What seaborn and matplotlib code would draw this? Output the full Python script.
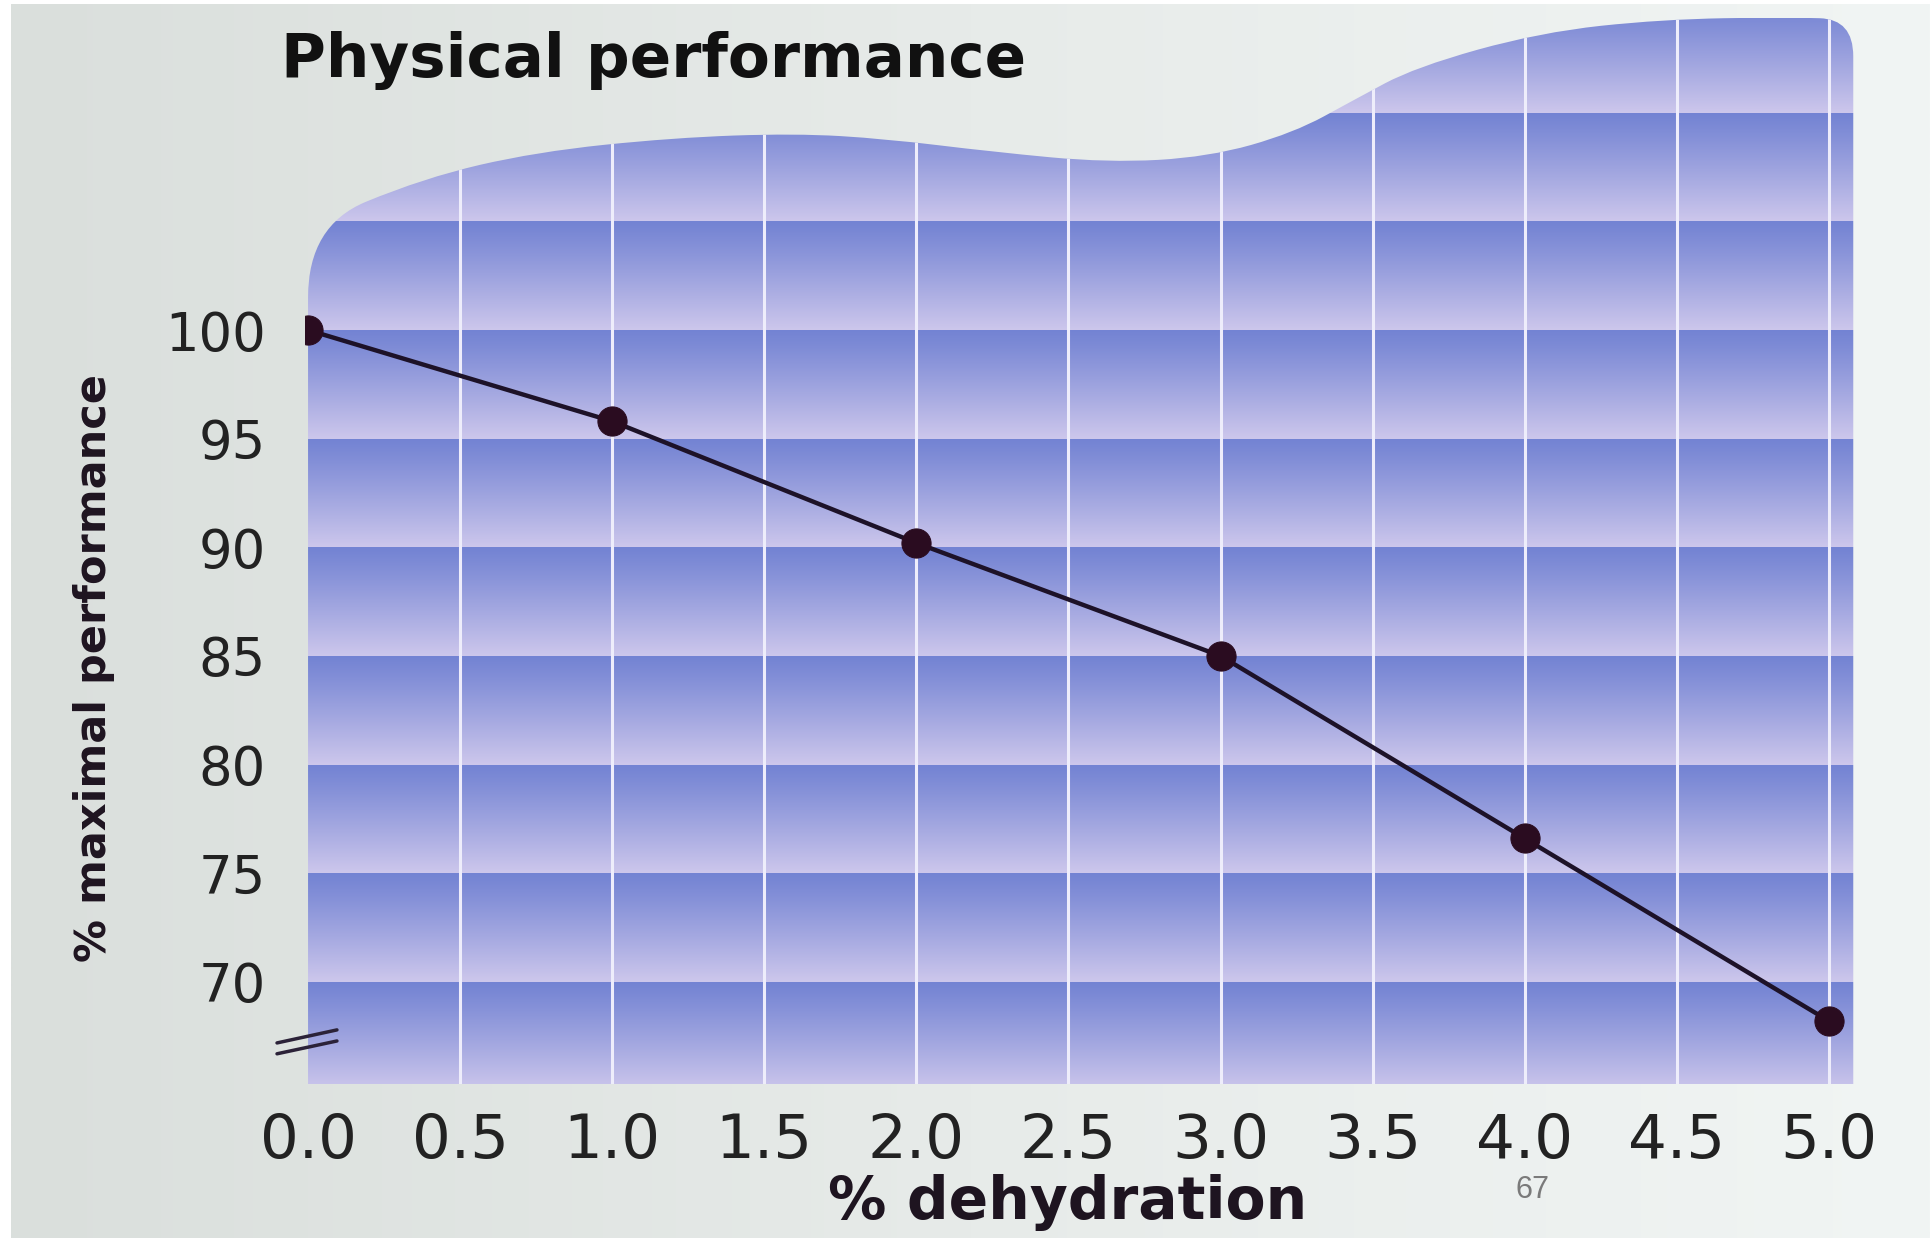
import numpy as np
import pandas as pd
import matplotlib
matplotlib.use("Agg")
import matplotlib.pyplot as plt
from matplotlib.path import Path
from matplotlib.patches import PathPatch
from matplotlib.colors import to_rgb
import seaborn as sns

# ---- data ----
dehydration = [0.0, 1.0, 2.0, 3.0, 4.0, 5.0]
performance = [100.0, 95.8, 90.2, 85.0, 76.6, 68.2]
x_ticks = [0.0, 0.5, 1.0, 1.5, 2.0, 2.5, 3.0, 3.5, 4.0, 4.5, 5.0]
x_tick_labels = ["0.0", "0.5", "1.0", "1.5", "2.0", "2.5", "3.0", "3.5", "4.0", "4.5", "5.0"]
y_ticks = [70, 75, 80, 85, 90, 95, 100]
y_tick_labels = ["70", "75", "80", "85", "90", "95", "100"]
title = "Physical performance"
x_label = "% dehydration"
y_label = "% maximal performance"
page_number = "67"

# decorative outline of the shaded panel (top edge control points)
top_x = [0.0, 0.0, 0.38, 0.75, 1.2, 1.6, 1.9, 2.25, 2.63, 2.96, 3.24, 3.44, 3.64, 4.05, 4.45, 4.86, 5.08, 5.08]
top_y = [101.5, 104.8, 107.0, 108.2, 108.85, 109.05, 108.8, 108.2, 107.7, 107.96, 109.07, 110.6, 112.1, 113.7, 114.3, 114.4, 114.3, 112.6]

df = pd.DataFrame({"dehydration": dehydration, "performance": performance})

sns.set_style("white")
plt.rcParams["font.family"] = ["DejaVu Sans"]

W, H = 1931, 1242
fig = plt.figure(figsize=(W / 100, H / 100), dpi=100)
fig.patch.set_facecolor("white")

# background (photo paper tone)
bg = fig.add_axes([11 / W, 4 / H, 1 - 11 / W, 1 - 8 / H])
bg.set_axis_off()
c_left = np.array(to_rgb("#dadfdc"))
c_mid = np.array(to_rgb("#e7ebe9"))
c_right = np.array(to_rgb("#f1f5f4"))
t = np.linspace(0, 1, 400)[None, :, None]
grad = np.where(t < 0.5, c_left + (c_mid - c_left) * (t / 0.5), c_mid + (c_right - c_mid) * ((t - 0.5) / 0.5))
grad = np.repeat(grad, 2, axis=0)
bg.imshow(grad, aspect="auto", extent=[0, 1, 0, 1], interpolation="bilinear")
bg.set_xlim(0, 1)
bg.set_ylim(0, 1)

# main axes
left_px, right_px, bottom_px, top_px = 305, 1856, 1084, 18
ax = fig.add_axes([left_px / W, 1 - bottom_px / H, (right_px - left_px) / W, (bottom_px - top_px) / H])
ax.patch.set_alpha(0)
xlim = (-0.01, 5.089)
ylim = (65.30, 114.36)
ax.set_xlim(*xlim)
ax.set_ylim(*ylim)

# shaded panel shape (smooth top edge via quadratic Bezier through midpoints)
x_right = 5.08
pts = list(zip(top_x, top_y))
verts = [(0.0, ylim[0]), pts[0]]
codes = [Path.MOVETO, Path.LINETO]
for i in range(1, len(pts) - 2):
    p = pts[i]
    q = pts[i + 1]
    mid = ((p[0] + q[0]) / 2, (p[1] + q[1]) / 2)
    verts += [p, mid]
    codes += [Path.CURVE3, Path.CURVE3]
verts += [pts[-2], pts[-1]]
codes += [Path.CURVE3, Path.CURVE3]
verts += [(x_right, ylim[0]), (0.0, ylim[0])]
codes += [Path.LINETO, Path.CLOSEPOLY]
shape = PathPatch(Path(verts, codes), transform=ax.transData, facecolor="none", edgecolor="none")
ax.add_patch(shape)

# banded gradient (dark at top of each 5-unit band, light at bottom)
dark = np.array(to_rgb("#7383d3"))
light = np.array(to_rgb("#cdc7ec"))
ny = 2400
yy = np.linspace(ylim[0], ylim[1], ny)
frac = (np.ceil(yy / 5.0) * 5.0 - yy) / 5.0
frac = np.clip(frac, 0, 1) ** 1.1
rows = dark[None, :] + (light - dark)[None, :] * frac[:, None]
img = np.repeat(rows[:, None, :], 2, axis=1)
im = ax.imshow(img, origin="lower", extent=[0.0, x_right, ylim[0], ylim[1]], aspect="auto",
               interpolation="nearest", zorder=0)
im.set_clip_path(shape)

# white vertical grid lines
vl = ax.vlines(x_ticks[1:], ylim[0], ylim[1], colors="#eeedfb", linewidth=2.2, zorder=1)
vl.set_clip_path(shape)

ax.set_xlim(*xlim)
ax.set_ylim(*ylim)

# data line
sns.lineplot(data=df, x="dehydration", y="performance", ax=ax, color="#1d1228", linewidth=3.2,
             marker="o", markersize=21, markerfacecolor="#2a0c20", markeredgecolor="#2a0c20",
             zorder=5)

# axis break mark
ax.plot([-0.102, 0.095], [67.19, 67.79], color="#2b2238", lw=2.5, clip_on=False, zorder=6)
ax.plot([-0.102, 0.095], [66.69, 67.28], color="#2b2238", lw=2.5, clip_on=False, zorder=6)

ax.set_xticks(x_ticks)
ax.set_xticklabels(x_tick_labels)
ax.set_yticks(y_ticks)
ax.set_yticklabels(y_tick_labels)
ax.tick_params(axis="x", length=0, pad=20, labelsize=44, labelcolor="#222222")
ax.tick_params(axis="y", length=0, pad=28, labelsize=38, labelcolor="#222222")
for s in ax.spines.values():
    s.set_visible(False)
ax.set_xlabel("")
ax.set_ylabel("")
ax.grid(False)

fig.text(281 / W, 1 - 60 / H, title, fontsize=44, fontweight="bold", color="#111111",
         ha="left", va="center")
fig.text(1068 / W, 1 - 1219 / H, x_label, fontsize=42, fontweight="bold", color="#1e1420",
         ha="center", va="baseline")
fig.text(94 / W, 1 - 668 / H, y_label, fontsize=31, fontweight="bold", color="#1e1420",
         ha="center", va="center", rotation=90)
fig.text(1533 / W, 1 - 1190 / H, page_number, fontsize=22, color="#7a7a7a",
         ha="center", va="center", family=["Liberation Sans", "DejaVu Sans"])

fig.savefig("out.png", dpi=100, facecolor=fig.get_facecolor())
